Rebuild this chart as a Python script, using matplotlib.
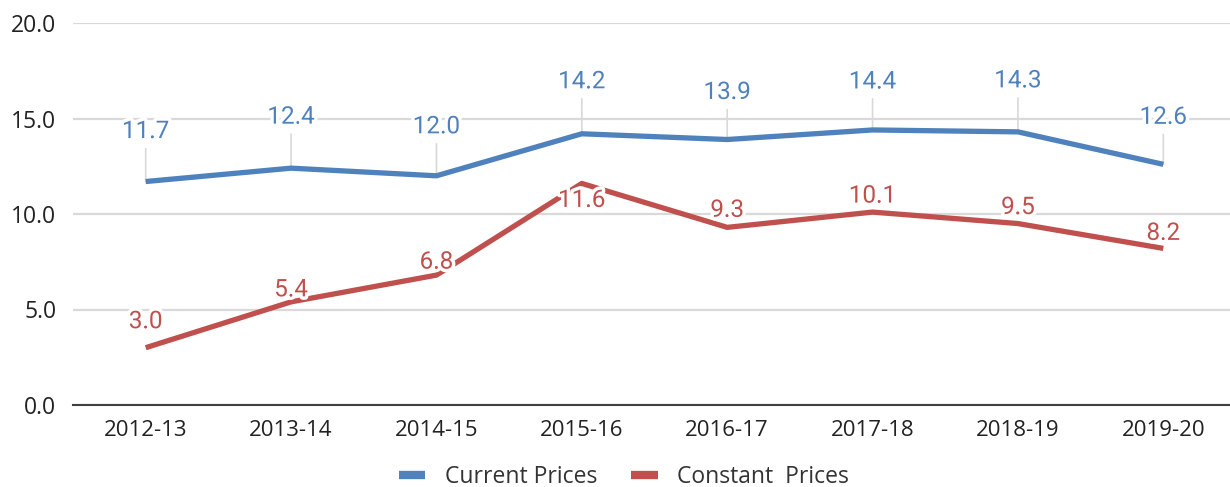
import matplotlib
matplotlib.use("Agg")
import matplotlib.pyplot as plt
import matplotlib.patheffects as pe

years = ["2012-13", "2013-14", "2014-15", "2015-16", "2016-17", "2017-18", "2018-19", "2019-20"]
current_prices = [11.7, 12.4, 12.0, 14.2, 13.9, 14.4, 14.3, 12.6]
constant_prices = [3.0, 5.4, 6.8, 11.6, 9.3, 10.1, 9.5, 8.2]
y_ticks = [0, 5, 10, 15, 20]

# label offsets (pixels, vertical) relative to the points
current_offsets = [50, 51, 49, 52, 47, 48, 51, 47]
constant_offsets = [26, 12, 13, -17, 17, 16, 16, 15]

BLUE = "#4F81BD"
RED = "#C0504D"
GRID = "#D9D9D9"

W, H = 1230, 487
fig = plt.figure(figsize=(W / 100, H / 100), dpi=100)
ax = fig.add_axes([73 / W, (H - 405) / H, (1236 - 73) / W, (405 - 23) / H])

x = list(range(len(years)))
ax.set_xlim(-0.5, len(years) - 0.5)
ax.set_ylim(0, 20)

ax.set_yticks(y_ticks)
ax.set_yticklabels([f"{v:.1f}" for v in y_ticks], fontsize=16.5, family="Open Sans", color="#222222")
ax.set_xticks(x)
ax.set_xticklabels(years, fontsize=16, family="Open Sans", color="#222222")
ax.tick_params(length=0, pad=11)
ax.tick_params(axis="y", pad=12)

for s in ["top", "right", "left"]:
    ax.spines[s].set_visible(False)
ax.spines["bottom"].set_color("#404040")
ax.spines["bottom"].set_linewidth(1.5)
ax.spines["bottom"].set_zorder(3)
ax.grid(axis="y", color=GRID, linewidth=1.6, zorder=0)
ax.set_axisbelow(True)

ax.plot(x, current_prices, color=BLUE, linewidth=3.8, solid_capstyle="butt", label="Current Prices", zorder=4)
ax.plot(x, constant_prices, color=RED, linewidth=3.8, solid_capstyle="butt", label="Constant  Prices", zorder=4)

halo = [pe.withStroke(linewidth=5, foreground="white")]

for xi, v, off in zip(x, current_prices, current_offsets):
    # leader line
    ax.annotate("", xy=(xi, v), xytext=(0, off - 17), textcoords="offset pixels",
                arrowprops=dict(arrowstyle="-", color=GRID, lw=1.2, shrinkA=0, shrinkB=0),
                zorder=2)
    ax.annotate(f"{v:.1f}", xy=(xi, v), xytext=(0, off), textcoords="offset pixels",
                ha="center", va="center", fontsize=17.5, family="Roboto", color=BLUE,
                path_effects=halo, zorder=6)

for xi, v, off in zip(x, constant_prices, constant_offsets):
    ax.annotate(f"{v:.1f}", xy=(xi, v), xytext=(0, off), textcoords="offset pixels",
                ha="center", va="center", fontsize=17.5, family="Roboto", color=RED,
                path_effects=halo, zorder=6)

handles = [plt.Line2D([], [], color=BLUE, linewidth=6, solid_capstyle="butt"),
           plt.Line2D([], [], color=RED, linewidth=6, solid_capstyle="butt")]
leg = fig.legend(handles, ["Current Prices", "Constant  Prices"], loc="center",
                 bbox_to_anchor=(624 / W, (H - 477) / H), ncol=2, frameon=False,
                 prop={"family": "Open Sans", "size": 16.5}, handlelength=1.15,
                 handletextpad=0.85, columnspacing=1.5)
for t in leg.get_texts():
    t.set_color("#333333")

fig.savefig("out.png", dpi=100, facecolor="white")
